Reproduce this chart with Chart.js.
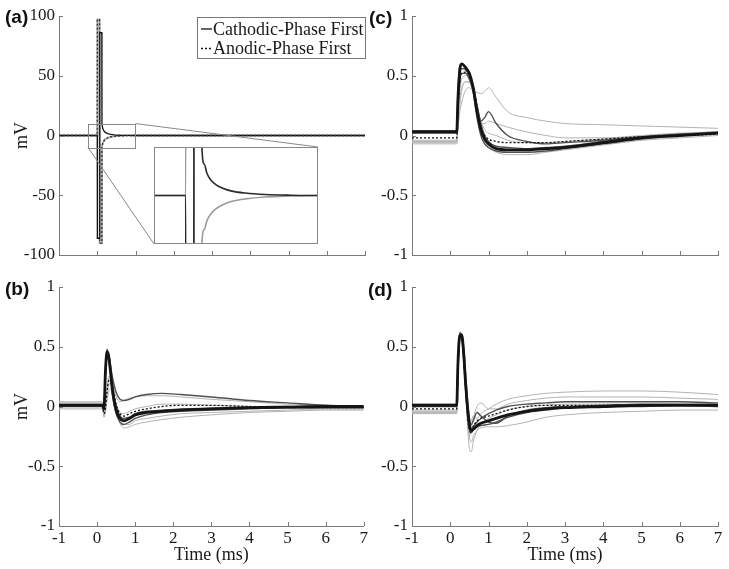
<!DOCTYPE html>
<html>
<head>
<meta charset="utf-8">
<script src="https://cdn.jsdelivr.net/npm/chart.js@4.4.0/dist/chart.umd.min.js"></script>
<style>
body { margin: 0; background: #fff; }
#fig { position: relative; width: 729px; height: 569px; overflow: hidden; }
#fig canvas { position: absolute; }
.lab { position: absolute; font: bold 19px "Liberation Sans", Arial, sans-serif; color: #111; line-height: 1; }
</style>
</head>
<body>
<div id="fig">
  <canvas id="chartA" width="370" height="270" style="left:0;top:0"></canvas>
  <canvas id="chartC" width="359" height="270" style="left:370px;top:0"></canvas>
  <canvas id="chartB" width="370" height="299" style="left:0;top:270px"></canvas>
  <canvas id="chartD" width="359" height="299" style="left:370px;top:270px"></canvas>
  <canvas id="inset" width="164" height="97" style="left:154px;top:147px;background:#fff"></canvas>
  <div class="lab" style="left:5px;top:7px">(a)</div>
  <div class="lab" style="left:369px;top:8px">(c)</div>
  <div class="lab" style="left:368px;top:280px">(d)</div>
  <div class="lab" style="left:5px;top:279px">(b)</div>
</div>
<script>
"use strict";

// axis ticks
const xTicks = [-1, 0, 1, 2, 3, 4, 5, 6, 7];
const xTickLabels = ['-1', '0', '1', '2', '3', '4', '5', '6', '7'];
const yTicksA = [-100, -50, 0, 50, 100];
const yTickLabelsA = ['-100', '-50', '0', '50', '100'];
const yTicksV = [-1, -0.5, 0, 0.5, 1];
const yTickLabelsV = ['-1', '-0.5', '0', '0.5', '1'];
const seriesLabels = ['Cathodic-Phase First', 'Anodic-Phase First'];

// (a) stimulus artefact, time in ms, mV
const tA = [-1, 0, 0.003, 0.06, 0.063, 0.12, 0.123, 0.14, 0.16, 0.19, 0.23, 0.28, 0.35, 0.45, 0.6, 0.8, 1.0, 7];
const aCath = [0, 0, -86, -86, 86, 86, 9.5, 6.5, 4.6, 3.2, 2.2, 1.5, 0.9, 0.5, 0.2, 0.06, 0, 0];
const aAnod = [0, 0, 97, 97, -90, -90, -9.5, -7, -5.2, -3.8, -2.7, -1.9, -1.2, -0.7, -0.3, -0.1, 0, 0];

// (b)
const tB = [-1, 0.14, 0.18, 0.22, 0.26, 0.3, 0.35, 0.4, 0.5, 0.6, 0.7, 0.85, 1.0, 1.3, 1.7, 2.2, 3, 4, 5, 6, 7];
const bCath = [0.01, 0.01, -0.02, 0.3, 0.46, 0.43, 0.3, 0.15, -0.03, -0.1, -0.12, -0.1, -0.07, -0.05, -0.04, -0.03, -0.02, -0.01, -0.005, 0, 0];
const bAnod = [0.01, 0.01, -0.06, -0.01, 0.12, 0.21, 0.23, 0.17, 0.02, -0.06, -0.08, -0.06, -0.04, -0.02, 0, 0.01, 0.01, 0, -0.005, -0.01, -0.01];
const bDark = [
  [0.02, 0.02, -0.01, 0.28, 0.44, 0.44, 0.33, 0.18, 0, -0.08, -0.1, -0.09, -0.06, -0.04, -0.03, -0.02, -0.015, -0.01, 0, 0, 0],
  [0, 0, -0.03, 0.32, 0.48, 0.42, 0.27, 0.1, -0.06, -0.13, -0.15, -0.13, -0.1, -0.07, -0.05, -0.04, -0.03, -0.02, -0.01, -0.01, -0.01],
  [0.01, 0.01, -0.02, 0.25, 0.42, 0.42, 0.35, 0.25, 0.12, 0.06, 0.05, 0.06, 0.08, 0.1, 0.11, 0.1, 0.08, 0.05, 0.03, 0.01, 0]
];
const bLight = [
  [0.03, 0.03, -0.07, -0.03, 0.08, 0.17, 0.2, 0.15, 0, -0.1, -0.15, -0.15, -0.12, -0.1, -0.08, -0.06, -0.05, -0.04, -0.03, -0.02, -0.02],
  [-0.02, -0.02, -0.09, -0.05, 0.05, 0.12, 0.15, 0.1, -0.05, -0.14, -0.18, -0.17, -0.15, -0.13, -0.11, -0.09, -0.07, -0.05, -0.04, -0.03, -0.03],
  [0.04, 0.04, -0.05, 0, 0.15, 0.25, 0.25, 0.2, 0.08, 0.04, 0.05, 0.07, 0.08, 0.09, 0.09, 0.08, 0.06, 0.04, 0.02, 0.01, 0],
  [0, 0, -0.06, -0.01, 0.12, 0.22, 0.24, 0.16, 0.02, -0.05, -0.06, -0.04, -0.02, 0, 0.02, 0.02, 0.01, 0, -0.01, -0.02, -0.02]
];

// (c)
const tC = [-1, 0.17, 0.2, 0.25, 0.3, 0.4, 0.5, 0.6, 0.7, 0.8, 0.9, 1.0, 1.2, 1.5, 2, 2.5, 3, 4, 5, 6, 7];
const cCath = [0.03, 0.03, 0.3, 0.55, 0.6, 0.57, 0.52, 0.4, 0.2, 0.05, -0.03, -0.07, -0.11, -0.12, -0.12, -0.11, -0.1, -0.06, -0.02, 0, 0.02];
const cAnod = [-0.02, -0.02, 0.2, 0.45, 0.52, 0.53, 0.5, 0.4, 0.22, 0.07, 0, -0.03, -0.05, -0.06, -0.06, -0.06, -0.05, -0.03, -0.01, 0, 0.01];
const cDark = [
  [0.04, 0.04, 0.35, 0.58, 0.6, 0.56, 0.5, 0.36, 0.15, 0, -0.07, -0.1, -0.13, -0.14, -0.14, -0.13, -0.11, -0.07, -0.03, 0, 0.02],
  [0.02, 0.02, 0.25, 0.5, 0.56, 0.55, 0.5, 0.42, 0.25, 0.1, 0, -0.05, -0.09, -0.1, -0.11, -0.1, -0.09, -0.05, -0.02, 0.01, 0.03],
  [0.03, 0.03, 0.2, 0.45, 0.52, 0.52, 0.47, 0.38, 0.25, 0.12, 0.15, 0.2, 0.1, 0, -0.05, -0.07, -0.06, -0.04, -0.01, 0.01, 0.02]
];
const cLight = [
  [-0.05, -0.05, 0.05, 0.2, 0.28, 0.38, 0.4, 0.37, 0.36, 0.35, 0.37, 0.4, 0.32, 0.2, 0.15, 0.12, 0.1, 0.09, 0.08, 0.07, 0.06],
  [-0.06, -0.06, 0.1, 0.3, 0.4, 0.45, 0.45, 0.38, 0.2, 0.05, -0.05, -0.1, -0.14, -0.16, -0.16, -0.14, -0.12, -0.08, -0.04, -0.02, 0],
  [-0.04, -0.04, 0.15, 0.38, 0.47, 0.5, 0.48, 0.4, 0.25, 0.12, 0.05, 0.02, 0, -0.04, -0.06, -0.06, -0.05, -0.03, -0.01, 0.01, 0.03],
  [-0.07, -0.07, 0.05, 0.25, 0.38, 0.45, 0.44, 0.36, 0.22, 0.1, 0.1, 0.12, 0.1, 0.07, 0.03, 0, -0.02, -0.02, 0, 0.02, 0.03]
];

// (d)
const tD = [-1, 0.17, 0.2, 0.25, 0.3, 0.35, 0.4, 0.45, 0.5, 0.55, 0.6, 0.7, 0.8, 1.0, 1.2, 1.5, 2, 2.5, 3, 4, 5, 6, 7];
const dCath = [0.01, 0.01, 0.35, 0.6, 0.6, 0.45, 0.2, 0, -0.15, -0.2, -0.19, -0.16, -0.14, -0.12, -0.1, -0.07, -0.04, -0.02, -0.01, 0, 0.01, 0.01, 0.01];
const dAnod = [-0.02, -0.02, 0.3, 0.57, 0.58, 0.43, 0.17, -0.07, -0.2, -0.22, -0.17, -0.12, -0.1, -0.08, -0.06, -0.03, 0, 0.01, 0.01, 0.01, 0.01, 0.01, 0.01];
const dDark = [
  [0.02, 0.02, 0.38, 0.62, 0.58, 0.4, 0.15, -0.05, -0.18, -0.22, -0.2, -0.17, -0.16, -0.15, -0.13, -0.09, -0.05, -0.03, -0.01, 0, 0, 0.01, 0],
  [0, 0, 0.3, 0.57, 0.6, 0.5, 0.28, 0.05, -0.1, -0.15, -0.12, -0.05, -0.08, -0.13, -0.14, -0.08, -0.03, -0.01, 0, 0.01, 0.02, 0.02, 0.02],
  [0.01, 0.01, 0.33, 0.6, 0.59, 0.44, 0.2, -0.02, -0.16, -0.2, -0.17, -0.13, -0.1, -0.06, -0.03, 0, 0.02, 0.03, 0.04, 0.04, 0.04, 0.04, 0.03]
];
const dLight = [
  [-0.04, -0.04, 0.25, 0.55, 0.58, 0.45, 0.15, -0.15, -0.35, -0.38, -0.3, -0.2, -0.15, -0.1, -0.07, -0.03, 0, 0.01, 0.02, 0.02, 0.02, 0.02, 0.02],
  [-0.03, -0.03, 0.3, 0.58, 0.57, 0.42, 0.15, -0.05, -0.15, -0.12, -0.08, -0.1, -0.06, -0.02, 0.02, 0.06, 0.09, 0.11, 0.12, 0.13, 0.13, 0.12, 0.1],
  [-0.06, -0.06, 0.28, 0.56, 0.58, 0.43, 0.18, -0.08, -0.25, -0.3, -0.25, -0.2, -0.18, -0.17, -0.17, -0.16, -0.13, -0.09, -0.07, -0.05, -0.04, -0.03, -0.03],
  [-0.05, -0.05, 0.3, 0.58, 0.58, 0.42, 0.12, -0.12, -0.25, -0.2, -0.1, 0, 0.03, -0.02, -0.02, 0.02, 0.05, 0.07, 0.08, 0.08, 0.08, 0.07, 0.06]
];

Chart.defaults.font.family = '"Liberation Serif", "Times New Roman", serif';
Chart.defaults.font.size = 17;
Chart.defaults.color = '#1a1a1a';
Chart.defaults.elements.point.radius = 0;
Chart.defaults.elements.line.cubicInterpolationMode = 'monotone';
Chart.defaults.elements.line.fill = false;

const AXIS = '#7a7a7a';

function pts(t, v) {
    return t.map((x, i) => ({x: x, y: v[i]}));
}

// first dataset is painted last (on top)
function traceSets(t, cath, anod, darkRuns, lightRuns) {
    const sets = [
        {label: seriesLabels[1], data: pts(t, anod), borderColor: '#111', borderWidth: 1.3, borderDash: [2, 2]},
        {label: seriesLabels[0], data: pts(t, cath), borderColor: '#151515', borderWidth: 2.8}
    ];
    darkRuns.forEach(v => sets.push({data: pts(t, v), borderColor: '#505050', borderWidth: 1.4}));
    lightRuns.forEach(v => sets.push({data: pts(t, v), borderColor: '#b3b3b3', borderWidth: 1}));
    return sets;
}

// MATLAB style ticks pointing into the plot
const inTicks = {
    id: 'inTicks',
    afterDraw(chart) {
        const {ctx, chartArea: a, scales: {x, y}} = chart;
        ctx.save();
        ctx.strokeStyle = AXIS;
        ctx.lineWidth = 1;
        ctx.beginPath();
        xTicks.forEach(v => {
            const p = Math.round(x.getPixelForValue(v)) + 0.5;
            ctx.moveTo(p, a.bottom);
            ctx.lineTo(p, a.bottom - 4);
        });
        y.ticks.forEach(tk => {
            const p = Math.round(y.getPixelForValue(tk.value)) + 0.5;
            ctx.moveTo(a.left, p);
            ctx.lineTo(a.left + 4, p);
        });
        ctx.stroke();
        ctx.restore();
    }
};

function opts(c) {
    return {
        responsive: false,
        animation: false,
        layout: {padding: {top: c.top, right: c.right, left: 0, bottom: 0}},
        plugins: {legend: {display: false}, tooltip: {enabled: false}},
        scales: {
            x: {
                type: 'linear', min: -1, max: 7,
                afterBuildTicks: s => { s.ticks = xTicks.map(v => ({value: v})); },
                afterFit: s => { s.height = c.xH; },
                grid: {display: false, drawTicks: false},
                border: {color: AXIS, width: 1},
                ticks: {display: c.xLabels, padding: 2, autoSkip: false, maxRotation: 0,
                        callback: (v, i) => xTickLabels[i]},
                title: {display: c.xLabels, text: 'Time (ms)', font: {size: 18}, padding: {top: 0, bottom: 3}}
            },
            y: {
                type: 'linear', min: c.yTicks[0], max: c.yTicks[c.yTicks.length - 1],
                afterBuildTicks: s => { s.ticks = c.yTicks.map(v => ({value: v})); },
                afterFit: s => { s.width = c.yW; },
                grid: {display: false, drawTicks: false},
                border: {color: AXIS, width: 1},
                ticks: {padding: 4, autoSkip: false, callback: (v, i) => c.yLabels[i]},
                title: {display: c.yTitle, text: 'mV', font: {size: 18}, padding: {top: 11, bottom: 0}}
            }
        }
    };
}

// legend box inside panel (a)
const legendBox = {
    id: 'legendBox',
    afterDraw(chart) {
        const ctx = chart.ctx;
        const bx = 197, by = 17, bw = 168, bh = 41;
        ctx.save();
        ctx.fillStyle = '#fff';
        ctx.fillRect(bx, by, bw, bh);
        ctx.strokeStyle = '#777';
        ctx.lineWidth = 1;
        ctx.strokeRect(bx + 0.5, by + 0.5, bw, bh);
        ctx.font = '18px "Liberation Serif", serif';
        ctx.textBaseline = 'middle';
        ctx.fillStyle = '#1a1a1a';
        const rows = [chart.data.datasets[1], chart.data.datasets[0]];
        rows.forEach((ds, i) => {
            const yy = by + 12 + i * 19.5;
            ctx.beginPath();
            ctx.strokeStyle = '#111';
            ctx.lineWidth = 1.3;
            ctx.setLineDash(ds.borderDash || []);
            ctx.moveTo(bx + 4, yy);
            ctx.lineTo(bx + 15, yy);
            ctx.stroke();
            ctx.setLineDash([]);
            ctx.fillText(ds.label, bx + 16, yy + 1);
        });
        ctx.restore();
    }
};

// zoom rectangle around the artefact and lines to the inset
const zoomFrame = {
    id: 'zoomFrame',
    afterDraw(chart) {
        const {ctx, scales: {x, y}} = chart;
        const ins = document.getElementById('inset');
        const ix0 = ins.offsetLeft, iy0 = ins.offsetTop;
        const ix1 = ix0 + ins.width, iy1 = iy0 + ins.height;
        const rx0 = x.getPixelForValue(-0.24), rx1 = x.getPixelForValue(1.0);
        const ry0 = y.getPixelForValue(10), ry1 = y.getPixelForValue(-10);
        ctx.save();
        ctx.strokeStyle = '#888';
        ctx.lineWidth = 1;
        ctx.strokeRect(Math.round(rx0) + 0.5, Math.round(ry0) + 0.5, Math.round(rx1 - rx0), Math.round(ry1 - ry0));
        ctx.beginPath();
        ctx.moveTo(rx1, ry0);
        ctx.lineTo(ix1, iy0);
        ctx.moveTo(rx0, ry1);
        ctx.lineTo(ix0, iy1);
        ctx.stroke();
        ctx.restore();
    }
};

new Chart(document.getElementById('chartA'), {
    type: 'line',
    data: {datasets: [
        {label: seriesLabels[1], data: pts(tA, aAnod), borderColor: '#333', borderWidth: 1.3, borderDash: [2, 2], cubicInterpolationMode: 'default', tension: 0},
        {label: seriesLabels[0], data: pts(tA, aCath), borderColor: '#111', borderWidth: 1.3, cubicInterpolationMode: 'default', tension: 0},
        {data: pts(tA, aAnod), borderColor: '#aaa', borderWidth: 2, cubicInterpolationMode: 'default', tension: 0}
    ]},
    options: opts({top: 16, right: 5, xH: 15, yW: 59, xLabels: false, yTitle: true, yTicks: yTicksA, yLabels: yTickLabelsA}),
    plugins: [inTicks, zoomFrame, legendBox]
});

new Chart(document.getElementById('inset'), {
    type: 'line',
    data: {datasets: [
        {data: pts(tA, aCath), borderColor: '#2a2a2a', borderWidth: 1.6},
        {data: pts(tA, aAnod), borderColor: '#9a9a9a', borderWidth: 1.6}
    ]},
    options: {
        responsive: false,
        animation: false,
        layout: {padding: 0},
        plugins: {legend: {display: false}, tooltip: {enabled: false}},
        scales: {
            x: {type: 'linear', min: -0.24, max: 1.0, display: false},
            y: {type: 'linear', min: -10, max: 10, display: false}
        }
    },
    plugins: [{
        id: 'insetBorder',
        afterDraw(chart) {
            const ctx = chart.ctx;
            ctx.save();
            ctx.strokeStyle = '#888';
            ctx.lineWidth = 1;
            ctx.strokeRect(0.5, 0.5, chart.width - 1, chart.height - 1);
            ctx.restore();
        }
    }]
});

new Chart(document.getElementById('chartC'), {
    type: 'line',
    data: {datasets: traceSets(tC, cCath, cAnod, cDark, cLight)},
    options: opts({top: 16, right: 11, xH: 15, yW: 42, xLabels: false, yTitle: false, yTicks: yTicksV, yLabels: yTickLabelsV}),
    plugins: [inTicks]
});

new Chart(document.getElementById('chartB'), {
    type: 'line',
    data: {datasets: traceSets(tB, bCath, bAnod, bDark, bLight)},
    options: opts({top: 17, right: 5, xH: 43, yW: 59, xLabels: true, yTitle: true, yTicks: yTicksV, yLabels: yTickLabelsV}),
    plugins: [inTicks]
});

new Chart(document.getElementById('chartD'), {
    type: 'line',
    data: {datasets: traceSets(tD, dCath, dAnod, dDark, dLight)},
    options: opts({top: 17, right: 11, xH: 43, yW: 42, xLabels: true, yTitle: false, yTicks: yTicksV, yLabels: yTickLabelsV}),
    plugins: [inTicks]
});
</script>
</body>
</html>
